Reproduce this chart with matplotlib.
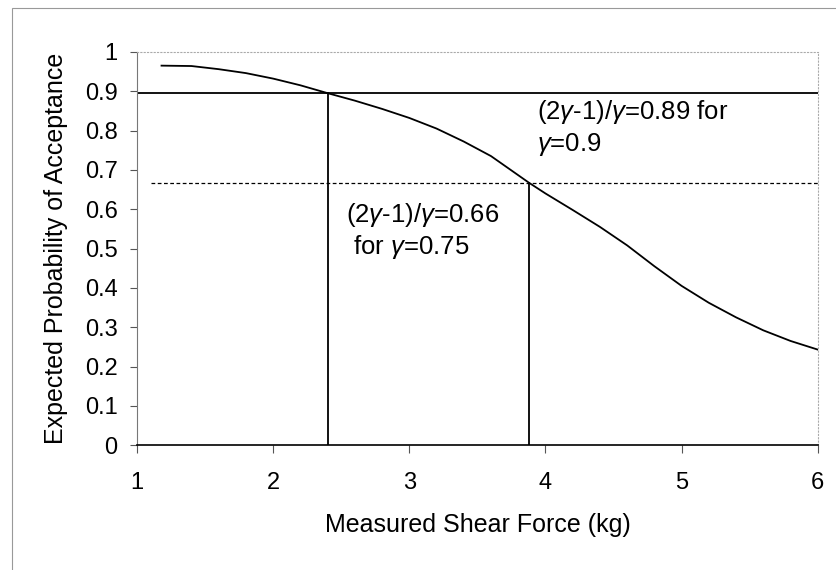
import numpy as np
import matplotlib.pyplot as plt
from matplotlib.patches import Rectangle

plt.rcParams['font.family'] = ['Liberation Sans', 'DejaVu Sans']
plt.rcParams['mathtext.fontset'] = 'custom'
plt.rcParams['mathtext.rm'] = 'Liberation Sans'
plt.rcParams['mathtext.it'] = 'Liberation Sans:italic'

# Expected acceptance curve
force = [1.18, 1.4, 1.6, 1.8, 2.0, 2.2, 2.4, 2.6, 2.8, 3.0, 3.2, 3.4, 3.6,
         3.88, 4.0, 4.2, 4.4, 4.6, 4.8, 5.0, 5.2, 5.4, 5.6, 5.8, 6.0]
prob = [0.965, 0.964, 0.956, 0.946, 0.932, 0.915, 0.895, 0.876, 0.855,
        0.832, 0.805, 0.772, 0.735, 0.667, 0.640, 0.598, 0.555, 0.508,
        0.455, 0.405, 0.362, 0.325, 0.292, 0.265, 0.243]

# Thresholds (2g-1)/g and the forces where the curve crosses them
level_hi = 0.895
level_lo = 0.667
cross_hi = 2.4
cross_lo = 3.88

fig = plt.figure(figsize=(8.37, 5.70), dpi=100)
ax = fig.add_axes([0.1637, 0.219, 0.977 - 0.1637, 0.909 - 0.219])

# Outer frame around the chart
fig.patches.append(Rectangle((12 / 837, -0.05), 1.0, 1 - 8 / 570 + 0.05,
                             transform=fig.transFigure, fill=False,
                             edgecolor="#999999", lw=0.8))

ax.plot(force, prob, color="black", lw=1.3)
ax.plot([1, 6], [level_hi, level_hi], color="black", lw=1.3)
ax.plot([1.1, 6], [level_lo, level_lo], color="black", lw=0.9, ls=(0, (3, 2)))
ax.plot([cross_hi, cross_hi], [0, level_hi], color="black", lw=1.3)
ax.plot([cross_lo, cross_lo], [0, level_lo], color="black", lw=1.3)

g = "$\\mathit{\\gamma}$"
ax.text(3.94, 0.882, "(2%s-1)/%s=0.89 for\n%s=0.9" % (g, g, g),
        fontsize=18.5, va="top", ha="left", linespacing=1.22)
ax.text(2.535, 0.622, "(2%s-1)/%s=0.66\n for %s=0.75" % (g, g, g),
        fontsize=18.5, va="top", ha="left", linespacing=1.22)

ax.set_xlim(1, 6)
ax.set_ylim(0, 1)
ax.set_xticks([1, 2, 3, 4, 5, 6])
ax.set_yticks(np.round(np.arange(0, 1.01, 0.1), 1))
ax.set_yticklabels(["0", "0.1", "0.2", "0.3", "0.4", "0.5", "0.6", "0.7",
                    "0.8", "0.9", "1"])
ax.tick_params(labelsize=17, width=0.8, color="#555555")
ax.tick_params(axis="x", length=6, pad=13)
ax.tick_params(axis="y", length=5, pad=9)

ax.spines["top"].set_linestyle((0, (1, 2)))
ax.spines["top"].set_color("#aaaaaa")
ax.spines["right"].set_linestyle((0, (1, 2)))
ax.spines["right"].set_color("#aaaaaa")
ax.spines["left"].set_color("#777777")
ax.spines["bottom"].set_color("black")
ax.spines["bottom"].set_linewidth(1.2)

ax.set_xlabel("Measured Shear Force (kg)", fontsize=18, labelpad=14)
ax.set_ylabel("Expected Probability of Acceptance", fontsize=18, labelpad=12)

fig.savefig("out.png", dpi=100)
